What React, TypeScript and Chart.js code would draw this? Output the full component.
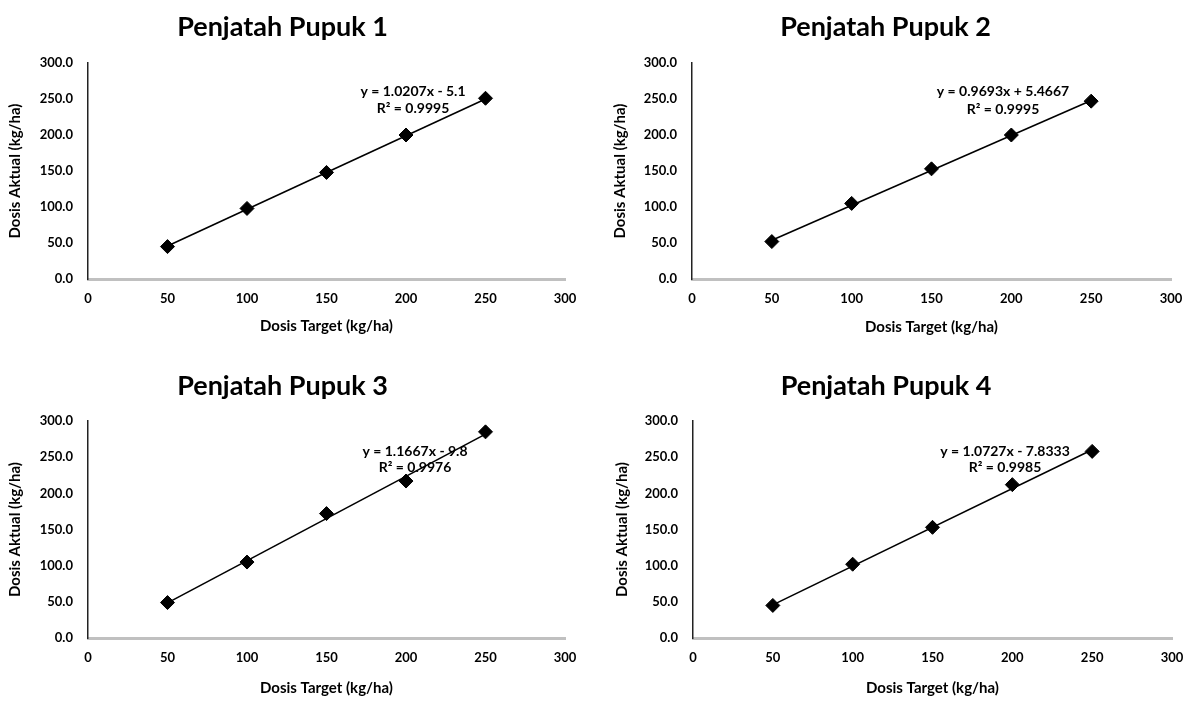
import React, { useEffect, useRef } from "react";
import { Chart, registerables } from "chart.js";

Chart.register(...registerables);

// ---------- data ----------
const targetDoses = [50, 100, 150, 200, 250];
const actual1 = [45, 98, 148, 200, 251];
const actual2 = [52, 105, 153, 200, 247];
const actual3 = [49, 105, 172, 217, 285];
const actual4 = [45, 102, 153, 212, 258];

const trendX = [50, 250];
const trend1 = [45.9, 250.1];
const trend2 = [53.9, 247.8];
const trend3 = [48.5, 281.9];
const trend4 = [45.8, 260.3];

const titles = ["Penjatah Pupuk 1", "Penjatah Pupuk 2", "Penjatah Pupuk 3", "Penjatah Pupuk 4"];
const equations = [
  ["y = 1.0207x - 5.1", "R² = 0.9995"],
  ["y = 0.9693x + 5.4667", "R² = 0.9995"],
  ["y = 1.1667x - 9.8", "R² = 0.9976"],
  ["y = 1.0727x - 7.8333", "R² = 0.9985"],
];
const xAxisTitle = "Dosis Target (kg/ha)";
const yAxisTitle = "Dosis Aktual (kg/ha)";
const xTickMin = 0;
const xTickMax = 300;
const xTickStep = 50;
const yTickMin = 0;
const yTickMax = 300;
const yTickStep = 50;

const actuals = [actual1, actual2, actual3, actual4];
const trends = [trend1, trend2, trend3, trend4];

// ---------- layout (page pixels) ----------
const panels = [
  { left: 0, top: 0, width: 578, height: 351, plotL: 88, plotR: 565, plotT: 63, plotB: 279, titleY: 27, xTitleY: 326, yTitleX: 15, eqX: 413, eqY: [91, 108] },
  { left: 600, top: 0, width: 588, height: 351, plotL: 692, plotR: 1171, plotT: 63, plotB: 279, titleY: 27, xTitleY: 327, yTitleX: 620, eqX: 1003, eqY: [91, 109] },
  { left: 0, top: 358, width: 578, height: 344, plotL: 88, plotR: 565, plotT: 421, plotB: 638, titleY: 386, xTitleY: 688, yTitleX: 15, eqX: 415, eqY: [451, 467] },
  { left: 600, top: 358, width: 588, height: 344, plotL: 693, plotR: 1172, plotT: 421, plotB: 638, titleY: 386, xTitleY: 688, yTitleX: 622, eqX: 1005, eqY: [451, 467] },
];

const FONT = "Lato, 'Open Sans', 'DejaVu Sans', sans-serif";
const TITLE_SIZE = 27;
const AXIS_TITLE_SIZE = 15;
const TICK_SIZE = 13;
const EQ_SIZE = 14;
const LH = 1.2;

function Panel({ idx }: { idx: number }) {
  const ref = useRef<HTMLCanvasElement | null>(null);
  const p = panels[idx];

  useEffect(() => {
    if (!ref.current) return;
    const titleLH = TITLE_SIZE * LH;
    const titlePadTop = p.titleY - p.top - titleLH / 2;
    const titlePadBottom = p.plotT - p.top - titlePadTop - titleLH;
    const axLH = AXIS_TITLE_SIZE * LH;
    const yScaleWidth = p.plotL - p.left;
    const xScaleHeight = p.top + p.height - p.plotB;
    const yTitlePad = p.yTitleX - p.left - axLH / 2;
    const xTitlePad = p.top + p.height - p.xTitleY - axLH / 2;
    const eq = equations[idx];

    const eqPlugin = {
      id: "eqLabel" + idx,
      afterDatasetsDraw(chart: any) {
        const ctx = chart.ctx;
        ctx.save();
        ctx.fillStyle = "#000";
        ctx.font = `bold ${EQ_SIZE}px ${FONT}`;
        ctx.textAlign = "center";
        ctx.textBaseline = "middle";
        ctx.fillText(eq[0], p.eqX - p.left, p.eqY[0] - p.top);
        ctx.fillText(eq[1], p.eqX - p.left, p.eqY[1] - p.top);
        ctx.restore();
      },
    };

    const chart = new Chart(ref.current, {
      type: "scatter",
      data: {
        datasets: [
          {
            data: actuals[idx].map((y, i) => ({ x: targetDoses[i], y })),
            pointStyle: "rectRot",
            pointRadius: 7,
            backgroundColor: "#000",
            borderColor: "#000",
            borderWidth: 1,
            showLine: false,
            order: 0,
          },
          {
            data: trends[idx].map((y, i) => ({ x: trendX[i], y })),
            showLine: true,
            pointRadius: 0,
            borderColor: "#000",
            borderWidth: 1.6,
            fill: false,
            order: 1,
          },
        ],
      },
      options: {
        responsive: false,
        animation: false,
        layout: { padding: { left: 0, top: 0, right: p.left + p.width - p.plotR, bottom: 0 } },
        plugins: {
          legend: { display: false },
          tooltip: { enabled: false },
          title: {
            display: true,
            text: titles[idx],
            color: "#000",
            font: { family: FONT, size: TITLE_SIZE, weight: "bold", lineHeight: LH },
            padding: { top: titlePadTop, bottom: titlePadBottom },
          },
        },
        scales: {
          x: {
            type: "linear",
            min: xTickMin,
            max: xTickMax,
            offset: false,
            grid: { display: false, drawTicks: false },
            border: { display: true, color: "#c0c0c0", width: 3 },
            ticks: {
              stepSize: xTickStep,
              color: "#000",
              padding: 12,
              maxRotation: 0,
              font: { family: FONT, size: TICK_SIZE, weight: "bold" },
            },
            title: {
              display: true,
              text: xAxisTitle,
              color: "#000",
              font: { family: FONT, size: AXIS_TITLE_SIZE, weight: "bold", lineHeight: LH },
              padding: { top: 0, bottom: xTitlePad },
            },
            afterFit: (s: any) => {
              s.height = xScaleHeight;
              s.paddingLeft = 0;
              s.paddingRight = 0;
            },
          },
          y: {
            type: "linear",
            min: yTickMin,
            max: yTickMax,
            grid: { display: false, drawTicks: false },
            border: { display: true, color: "#222", width: 1.5 },
            ticks: {
              stepSize: yTickStep,
              color: "#000",
              padding: 15,
              font: { family: FONT, size: TICK_SIZE, weight: "bold" },
              callback: (v: any) => Number(v).toFixed(1),
            },
            title: {
              display: true,
              text: yAxisTitle,
              color: "#000",
              font: { family: FONT, size: AXIS_TITLE_SIZE, weight: "bold", lineHeight: LH },
              padding: { top: yTitlePad, bottom: 0 },
            },
            afterFit: (s: any) => {
              s.width = yScaleWidth;
              s.paddingTop = 0;
              s.paddingBottom = 0;
            },
          },
        },
      },
      plugins: [eqPlugin],
    } as any);

    return () => chart.destroy();
  }, [idx]);

  return (
    <canvas
      ref={ref}
      width={p.width}
      height={p.height}
      style={{ position: "absolute", left: p.left, top: p.top, width: p.width, height: p.height }}
    />
  );
}

export default function App() {
  return (
    <div style={{ position: "absolute", left: 0, top: 0, width: 1189, height: 702, background: "#fff", overflow: "hidden" }}>
      {panels.map((_, i) => (
        <Panel key={i} idx={i} />
      ))}
    </div>
  );
}
